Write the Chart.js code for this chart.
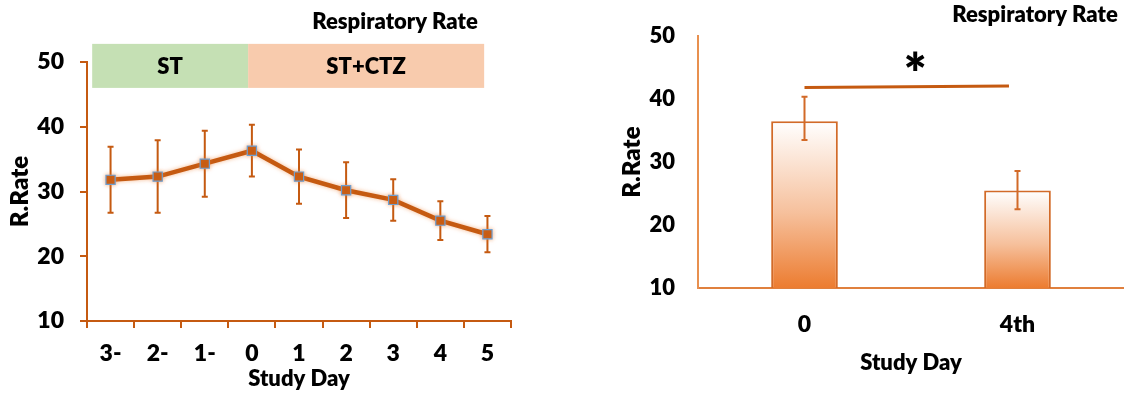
<!DOCTYPE html>
<html>
<head>
<meta charset="utf-8">
<script src="https://cdn.jsdelivr.net/npm/chart.js@4"></script>
<style>
  html, body { margin: 0; padding: 0; background: #fff; }
  body { width: 1124px; height: 394px; position: relative; overflow: hidden; }
  .box { position: absolute; top: 0; height: 394px; }
  #left { left: 0; width: 560px; }
  #right { left: 560px; width: 564px; }
</style>
</head>
<body>
<div class="box" id="left"><canvas id="lineChart"></canvas></div>
<div class="box" id="right"><canvas id="barChart"></canvas></div>
<script>
// left panel: respiratory rate per study day
const dayLabels = ['3-', '2-', '1-', '0', '1', '2', '3', '4', '5'];
const dayMeans = [31.8, 32.3, 34.3, 36.3, 32.3, 30.2, 28.7, 25.5, 23.4];
const daySD = [5.1, 5.6, 5.1, 4.0, 4.2, 4.3, 3.2, 3.0, 2.8];

// treatment bands above the line (x in category index units, y in R.Rate units)
const bandNames = ['ST', 'ST+CTZ'];
const bandFrom = [-0.39, 2.92];
const bandTo = [2.92, 7.93];
const bandColors = ['#C5E0B4', '#F8CBAD'];
const bandLow = 46.0;
const bandHigh = 52.8;

// right panel: day 0 vs 4th day
const barLabels = ['0', '4th'];
const barMeans = [36.5, 25.5];
const barErrUp = [3.9, 3.1];
const barErrDown = [3.0, 3.0];

// significance bar and star
const sigFrom = [0.0, 41.85];
const sigTo = [0.96, 42.1];
const sigStar = [0.52, 46.1];

const ORANGE = '#C55A11';
const FONT = 'Lato';
const WEIGHT = '800';

function bold(size) {
    return { family: FONT, size: size, weight: WEIGHT };
}

const errorBars = {
    id: 'errorBars',
    beforeDatasetsDraw(chart, args, opts) {
        const ctx = chart.ctx;
        const x = chart.scales.x, y = chart.scales.y;
        ctx.save();
        ctx.strokeStyle = opts.color;
        ctx.lineWidth = opts.width;
        opts.means.forEach((m, i) => {
            const px = x.getPixelForValue(i);
            const top = y.getPixelForValue(m + opts.up[i]);
            const bot = y.getPixelForValue(m - opts.down[i]);
            ctx.beginPath();
            ctx.moveTo(px, top); ctx.lineTo(px, bot);
            ctx.moveTo(px - opts.cap, top); ctx.lineTo(px + opts.cap, top);
            ctx.moveTo(px - opts.cap, bot); ctx.lineTo(px + opts.cap, bot);
            ctx.stroke();
        });
        ctx.restore();
    }
};

const errorBarsOnTop = {
    id: 'errorBarsOnTop',
    afterDatasetsDraw(chart, args, opts) {
        errorBars.beforeDatasetsDraw(chart, args, opts);
    }
};

const corner = {
    id: 'corner',
    afterDraw(chart, args, opts) {
        const ctx = chart.ctx;
        ctx.save();
        ctx.fillStyle = '#000';
        ctx.font = WEIGHT + ' 22px ' + FONT;
        ctx.textAlign = 'center';
        ctx.textBaseline = 'middle';
        ctx.fillText(opts.text, opts.x, opts.y);
        ctx.restore();
    }
};

const bands = {
    id: 'bands',
    beforeDatasetsDraw(chart) {
        const ctx = chart.ctx;
        const x = chart.scales.x, y = chart.scales.y;
        const top = y.getPixelForValue(bandHigh);
        const bot = y.getPixelForValue(bandLow);
        ctx.save();
        bandNames.forEach((name, i) => {
            const l = x.getPixelForValue(bandFrom[i]);
            const r = x.getPixelForValue(bandTo[i]);
            ctx.fillStyle = bandColors[i];
            ctx.fillRect(l, top, r - l, bot - top);
            ctx.fillStyle = '#000';
            ctx.font = WEIGHT + ' 22px ' + FONT;
            ctx.textAlign = 'center';
            ctx.textBaseline = 'middle';
            ctx.fillText(name, (l + r) / 2, (top + bot) / 2 + 1);
        });
        ctx.restore();
    }
};

const glow = {
    id: 'glow',
    beforeDatasetDraw(chart) {
        chart.ctx.save();
        chart.ctx.shadowColor = 'rgba(237, 125, 49, 0.55)';
        chart.ctx.shadowBlur = 4;
    },
    afterDatasetDraw(chart) {
        chart.ctx.restore();
    }
};

const significance = {
    id: 'significance',
    afterDraw(chart) {
        const ctx = chart.ctx;
        const x = chart.scales.x, y = chart.scales.y;
        ctx.save();
        ctx.strokeStyle = ORANGE;
        ctx.lineWidth = 3;
        ctx.beginPath();
        ctx.moveTo(x.getPixelForValue(sigFrom[0]), y.getPixelForValue(sigFrom[1]));
        ctx.lineTo(x.getPixelForValue(sigTo[0]), y.getPixelForValue(sigTo[1]));
        ctx.stroke();
        ctx.fillStyle = '#000';
        ctx.font = WEIGHT + ' 54px ' + FONT;
        ctx.textAlign = 'center';
        ctx.textBaseline = 'alphabetic';
        const m = ctx.measureText('*');
        const cy = y.getPixelForValue(sigStar[1]);
        ctx.fillText('*', x.getPixelForValue(sigStar[0]), cy + (m.actualBoundingBoxAscent - m.actualBoundingBoxDescent) / 2);
        ctx.restore();
    }
};

new Chart(document.getElementById('lineChart'), {
    type: 'line',
    data: {
        labels: dayLabels,
        datasets: [{
            data: dayMeans,
            borderColor: ORANGE,
            borderWidth: 4.5,
            pointStyle: 'rect',
            pointRadius: 6.5,
            pointBackgroundColor: ORANGE,
            pointBorderColor: '#6E9FD2',
            pointBorderWidth: 1.2,
            tension: 0
        }]
    },
    options: {
        responsive: true,
        maintainAspectRatio: false,
        animation: false,
        events: [],
        layout: { padding: { top: 62, right: 49, left: 0, bottom: 0 } },
        plugins: {
            legend: { display: false },
            tooltip: { enabled: false },
            errorBars: { means: dayMeans, up: daySD, down: daySD, color: ORANGE, width: 2, cap: 3 },
            corner: { text: 'Respiratory Rate', x: 395, y: 22 }
        },
        scales: {
            x: {
                offset: true,
                grid: { offset: true, drawOnChartArea: false, drawTicks: true, tickLength: 7, color: ORANGE, lineWidth: 2 },
                border: { display: true, color: ORANGE, width: 2 },
                ticks: { color: '#000', font: bold(23), padding: 12 },
                title: { display: true, text: 'Study Day', color: '#000', font: bold(22), padding: { top: 0, bottom: 2 } },
                afterFit(scale) { scale.height = 73; }
            },
            y: {
                min: 10,
                max: 50,
                ticks: { stepSize: 10, color: '#000', font: bold(23), padding: 16 },
                grid: { drawOnChartArea: false, drawTicks: true, tickLength: 7, color: ORANGE, lineWidth: 2 },
                border: { display: true, color: ORANGE, width: 2 },
                title: { display: true, text: 'R.Rate', color: '#000', font: bold(24), padding: { top: 6, bottom: 0 } },
                afterFit(scale) { scale.width = 87; }
            }
        }
    },
    plugins: [bands, errorBars, glow, corner]
});

new Chart(document.getElementById('barChart'), {
    type: 'bar',
    data: {
        labels: barLabels,
        datasets: [{
            data: barMeans,
            backgroundColor(c) {
                const chart = c.chart;
                const area = chart.chartArea;
                if (!area || c.dataIndex === undefined) return '#F4B183';
                const top = chart.scales.y.getPixelForValue(barMeans[c.dataIndex]);
                const g = chart.ctx.createLinearGradient(0, top, 0, area.bottom);
                g.addColorStop(0, '#FFFFFF');
                g.addColorStop(0.55, '#F6C09C');
                g.addColorStop(1, '#EC7C30');
                return g;
            },
            borderColor: '#D26A28',
            borderWidth: 2,
            borderSkipped: false,
            barPercentage: 0.313,
            categoryPercentage: 1
        }]
    },
    options: {
        responsive: true,
        maintainAspectRatio: false,
        animation: false,
        events: [],
        layout: { padding: { top: 25, right: 0, left: 0, bottom: 0 } },
        plugins: {
            legend: { display: false },
            tooltip: { enabled: false },
            errorBarsOnTop: { means: barMeans, up: barErrUp, down: barErrDown, color: '#D26A28', width: 2, cap: 3 },
            corner: { text: 'Respiratory Rate', x: 475, y: 15 }
        },
        scales: {
            x: {
                grid: { display: false, drawTicks: false },
                border: { display: true, color: '#E0803E', width: 2 },
                ticks: { color: '#000', font: bold(23), padding: 23 },
                title: { display: true, text: 'Study Day', color: '#000', font: bold(22), padding: { top: 0, bottom: 18 } },
                afterFit(scale) { scale.height = 106; }
            },
            y: {
                min: 10,
                max: 50,
                ticks: { stepSize: 10, color: '#000', font: bold(22), padding: 23 },
                grid: { display: false, drawTicks: false },
                border: { display: true, color: '#E8904F', width: 2 },
                title: { display: true, text: 'R.Rate', color: '#000', font: bold(24), padding: { top: 58, bottom: 0 } },
                afterFit(scale) { scale.width = 138; }
            }
        }
    },
    plugins: [errorBarsOnTop, significance, corner]
});
</script>
</body>
</html>
